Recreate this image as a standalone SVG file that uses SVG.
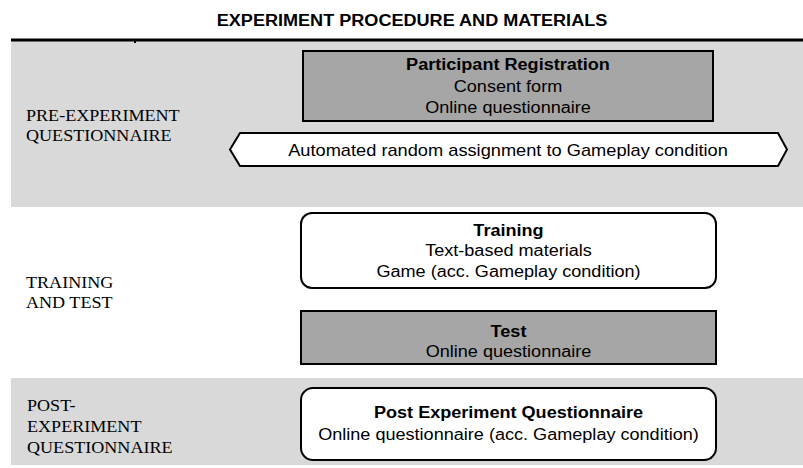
<svg xmlns="http://www.w3.org/2000/svg" width="803" height="468" viewBox="0 0 803 468">
  <style>
    .band { fill: #d9d9d9; }
    .box { stroke: #000; stroke-width: 2; }
    .gray { fill: #a6a6a6; }
    .white { fill: #ffffff; }
    .sans { font-family: "Liberation Sans", Arial, sans-serif; font-size: 16px; fill: #000; }
    .b { font-weight: bold; }
    .serif { font-family: "Liberation Serif", "Times New Roman", serif; font-size: 16px; fill: #000; }
  </style>
  <rect x="0" y="0" width="803" height="468" fill="#ffffff"/>

  <!-- Title -->
  <g id="title" transform="translate(412 0) scale(1.13 1)">
    <text x="0" y="26" class="sans b" text-anchor="middle">EXPERIMENT PROCEDURE AND MATERIALS</text>
  </g>

  <!-- Phase bands -->
  <g id="bands">
    <rect class="band" x="11" y="41" width="792" height="166"/>
    <rect class="band" x="11" y="378" width="792" height="87"/>
    <rect x="11" y="38.5" width="792" height="3" fill="#000"/>
    <rect x="134" y="41" width="2" height="2" fill="#000"/>
  </g>

  <!-- Phase labels -->
  <g id="label-pre" transform="translate(26 0) scale(1.13 1)">
    <text x="0" y="121" class="serif">PRE-EXPERIMENT</text>
    <text x="0" y="141.5" class="serif">QUESTIONNAIRE</text>
  </g>
  <g id="label-training" transform="translate(26 0) scale(1.13 1)">
    <text x="0" y="288" class="serif">TRAINING</text>
    <text x="0" y="308.5" class="serif">AND TEST</text>
  </g>
  <g id="label-post" transform="translate(27 0) scale(1.13 1)">
    <text x="0" y="411" class="serif">POST-</text>
    <text x="0" y="432" class="serif">EXPERIMENT</text>
    <text x="0" y="453" class="serif">QUESTIONNAIRE</text>
  </g>

  <!-- Nodes -->
  <g id="participant-registration">
    <rect class="box gray" x="303" y="51" width="410" height="70"/>
    <g transform="translate(508 0) scale(1.13 1)">
      <text x="0" y="70.5" class="sans b" text-anchor="middle">Participant Registration</text>
      <text x="0" y="92" class="sans" text-anchor="middle">Consent form</text>
      <text x="0" y="113" class="sans" text-anchor="middle">Online questionnaire</text>
    </g>
  </g>

  <g id="random-assignment">
    <polygon class="box white" points="230,149.5 240,133 778,133 787,149.5 778,166 240,166"/>
    <g transform="translate(508 0) scale(1.14 1)">
      <text x="0" y="156" class="sans" text-anchor="middle">Automated random assignment to Gameplay condition</text>
    </g>
  </g>

  <g id="training">
    <rect class="box white" x="301" y="213" width="415" height="75" rx="11" ry="11"/>
    <g transform="translate(508.5 0) scale(1.13 1)">
      <text x="0" y="236" class="sans b" text-anchor="middle">Training</text>
      <text x="0" y="256.5" class="sans" text-anchor="middle">Text-based materials</text>
      <text x="0" y="277" class="sans" text-anchor="middle">Game (acc. Gameplay condition)</text>
    </g>
  </g>

  <g id="test">
    <rect class="box gray" x="301" y="311" width="415" height="53"/>
    <g transform="translate(508.5 0) scale(1.13 1)">
      <text x="0" y="337" class="sans b" text-anchor="middle">Test</text>
      <text x="0" y="357" class="sans" text-anchor="middle">Online questionnaire</text>
    </g>
  </g>

  <g id="post-questionnaire">
    <rect class="box white" x="301" y="388" width="415" height="72" rx="12" ry="12"/>
    <g transform="translate(508.5 0) scale(1.13 1)">
      <text x="0" y="418" class="sans b" text-anchor="middle">Post Experiment Questionnaire</text>
      <text x="0" y="440" class="sans" text-anchor="middle">Online questionnaire (acc. Gameplay condition)</text>
    </g>
  </g>

  <g id="connectors"></g>
</svg>
